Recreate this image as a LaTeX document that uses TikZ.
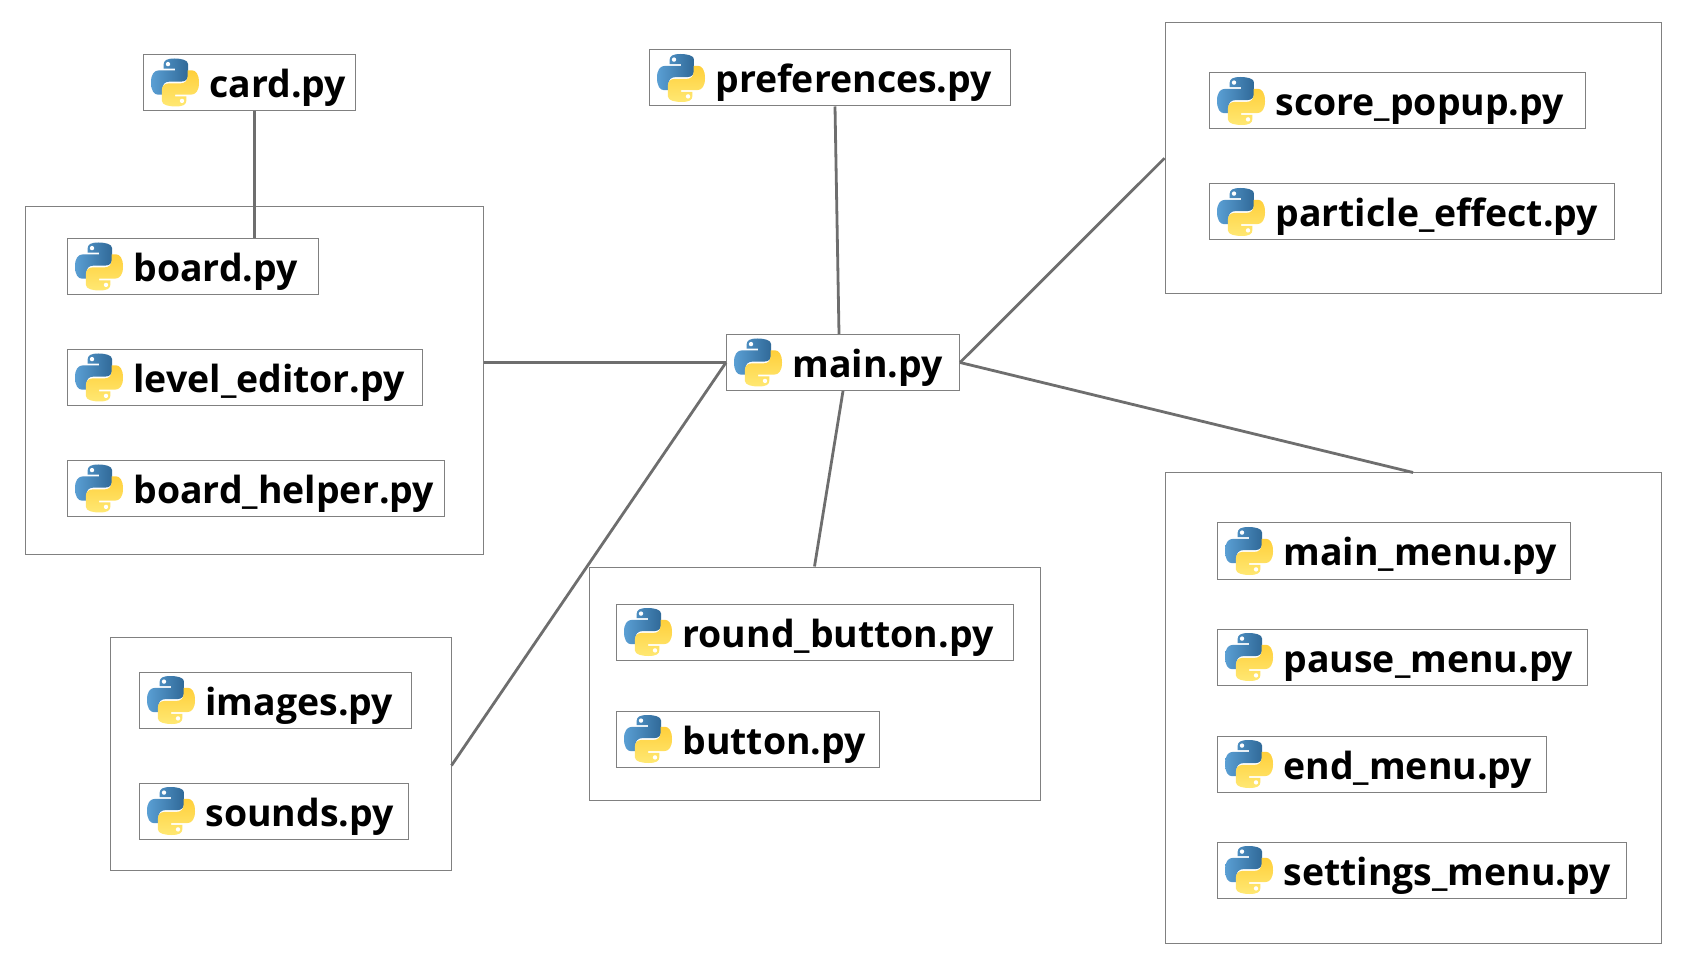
\documentclass[tikz,border=0pt]{standalone}
\usepackage{fontspec}
\setmainfont{Open Sans}
\usetikzlibrary{positioning, fit}
\definecolor{boxgray}{HTML}{808080}
\definecolor{linkgray}{HTML}{6E6E6E}
\definecolor{pyblueA}{HTML}{5A9FD4}
\definecolor{pyblueB}{HTML}{306998}
\definecolor{pyyellowA}{HTML}{FFE873}
\definecolor{pyyellowB}{HTML}{FFCF3A}
\newcommand{\snakepath}{(23.5,0) .. controls (16,0) and (12.7,2) .. (12.7,5.6) -- (12.7,10.2) -- (24,10.2) -- (24,11.8) -- (8.2,11.8)
  .. controls (3,11.8) and (0,16) .. (0,23.8) .. controls (0,32) and (3,36.2) .. (7.1,36.2) -- (11.4,36.2) -- (11.4,30.2)
  .. controls (11.4,26) and (14,23.1) .. (18.4,23.1) -- (30.4,23.1) .. controls (34.5,23.1) and (37.1,20.5) .. (37.1,16.6)
  -- (37.1,5.6) .. controls (37.1,1.5) and (30,0) .. (23.5,0) -- cycle}
\tikzset{
  pylogo/.pic={
    \path[left color=pyblueA, right color=pyblueB] \snakepath;
    \fill[white] (17,5.6) circle (2.2);
    \begin{scope}[rotate around={180:(24,24)}]
      \path[bottom color=pyyellowA, top color=pyyellowB] \snakepath;
      \fill[white] (17,5.6) circle (2.2);
    \end{scope}
  }
}
% one file box with its logo: name, left edge, centre height, width, text
\newcommand{\pyfile}[5]{%
  \node[pyfile=#4] (#1) at (#2,#3) {\hspace*{33pt}#5};
  \pic at ([xshift=4pt,yshift=12pt]#1.west) {pylogo};
}

\begin{document}
\begin{tikzpicture}[
    x=0.5pt, y=-0.5pt,
    pyfile/.style={draw=boxgray, line width=0.5pt, fill=white, anchor=west, inner xsep=0pt, inner ysep=0pt,
                   minimum width=#1*0.5pt, text width=#1*0.5pt, minimum height=28pt, align=left,
                   text height=18pt, text depth=3pt, font=\fontsize{18.7}{20}\selectfont\bfseries},
    groupbox/.style={draw=boxgray, line width=0.5pt, inner sep=0pt},
    link/.style={draw=linkgray, line width=1.4pt}
  ]
  \useasboundingbox (0,0) rectangle (1691,972);

  % Group frames
  \node[groupbox, fit={(25,206.5) (483,554.5)}] (boardgroup) {};
  \node[groupbox, fit={(110,637) (451,870)}] (assetgroup) {};
  \node[groupbox, fit={(589,567) (1040,800)}] (buttongroup) {};
  \node[groupbox, fit={(1165,23) (1661,293.5)}] (effectgroup) {};
  \node[groupbox, fit={(1165,473) (1661,943)}] (menugroup) {};

  % Single files
  \pyfile{card}{143}{82.5}{212}{card.py}
  \pyfile{preferences}{649}{78}{361}{preferences.py}
  \pyfile{main}{726}{362.5}{233}{main.py}

  % Files in the groups
  \pyfile{board}{67}{266.5}{251}{board.py}
  \pyfile{leveleditor}{67}{377.5}{355}{level\_editor.py}
  \pyfile{boardhelper}{67}{488.5}{377}{board\_helper.py}
  \pyfile{images}{139}{700}{272}{images.py}
  \pyfile{sounds}{139}{811}{269}{sounds.py}
  \pyfile{roundbutton}{616}{632}{397}{round\_button.py}
  \pyfile{button}{616}{739}{263}{button.py}
  \pyfile{scorepopup}{1209}{101}{376}{score\_popup.py}
  \pyfile{particle}{1209}{212}{405}{particle\_effect.py}
  \pyfile{mainmenu}{1217}{551}{353}{main\_menu.py}
  \pyfile{pausemenu}{1217}{657}{370}{pause\_menu.py}
  \pyfile{endmenu}{1217}{764}{329}{end\_menu.py}
  \pyfile{settingsmenu}{1217}{870}{409}{settings\_menu.py}

  % Connectors
  \draw[link] ([xshift=2.5pt]card.south) -- ([xshift=2.5pt]card.south |- board.north);
  \draw[link] ([xshift=2.5pt]preferences.south) -- ([xshift=-2pt]main.north);
  \draw[link] (main.west -| boardgroup.east) -- (main.west);
  \draw[link] ([yshift=-6pt]assetgroup.east) -- (main.west);
  \draw[link] (main.south) -- (buttongroup.north);
  \draw[link] (main.east) -- (effectgroup.west);
  \draw[link] (main.east) -- (menugroup.north);

\end{tikzpicture}
\end{document}
